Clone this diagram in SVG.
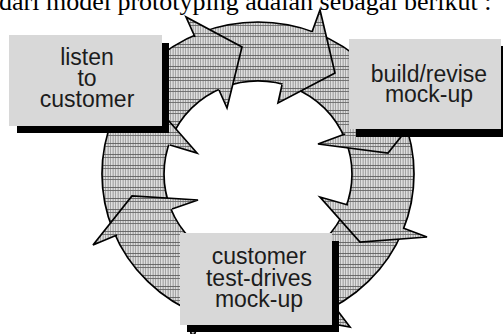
<svg xmlns="http://www.w3.org/2000/svg" width="503" height="334" viewBox="0 0 503 334">
  <defs>
    <!-- plaid hatch used for the ring and every arrowhead -->
    <pattern id="hatch" patternUnits="userSpaceOnUse" width="5" height="11">
      <rect width="5" height="11" fill="#dedede"/>
      <rect x="0" width="1" height="11" fill="#a4a4a4"/>
      <rect x="2" width="1" height="11" fill="#c4c4c4"/>
      <rect x="3" width="1" height="11" fill="#b2b2b2"/>
      <rect y="0" width="5" height="0.9" fill="#606060"/>
      <rect y="3" width="5" height="0.9" fill="#6a6a6a"/>
    </pattern>
  </defs>
  <style>
    .caption { font-family: "Liberation Serif", "Times New Roman", serif; font-size: 26px; fill: #000; }
    .ring { fill: url(#hatch); fill-rule: evenodd; stroke: #000; stroke-width: 1.7; }
    .head-fill { fill: url(#hatch); stroke: none; }
    .head-edge { fill: none; stroke: #000; stroke-width: 1.7; stroke-linejoin: miter; }
    .shadow { fill: #000; }
    .box { fill: #d8d8d8; }
    .label { font-family: "Liberation Sans", Arial, sans-serif; font-size: 23px; fill: #1c1c1c; text-anchor: middle; }
  </style>

  <rect width="503" height="334" fill="#fff"/>

  <text class="caption" x="-1" y="9.5">dari model prototyping adalah sebagai berikut :</text>

  <!-- cycle of curved arrows -->
  <g id="cycle-arrows">
    <path class="ring" d="M102,174 A156,152 0 1,1 414,174 A156,152 0 1,1 102,174 Z M164,174 A94,93 0 1,0 352,174 A94,93 0 1,0 164,174 Z"/>

    <!-- head at lower left, pointing up -->
    <path class="head-fill" d="M117,235 L93,245 L132,196 L198,200 L172,209 Z"/>
    <path class="head-edge" d="M117,235 L93,245 L132,196 L198,200 L172,209"/>

    <!-- head at upper left (mostly under the first box) -->
    <path class="head-fill" d="M110,126 L91,120 L147,96 L197,153 L170,145 Z"/>
    <path class="head-edge" d="M110,126 L91,120 L147,96 L197,153 L170,145"/>

    <!-- head at top left -->
    <path class="head-fill" d="M195,37 L186,17 L242,47 L227,108 L219,90 Z"/>
    <path class="head-edge" d="M195,37 L186,17 L242,47 L227,108 L219,90"/>

    <!-- head at top right -->
    <path class="head-fill" d="M312,32 L320,10 L335,73 L278,103 L282,85 Z"/>
    <path class="head-edge" d="M312,32 L320,10 L335,73 L278,103 L282,85"/>

    <!-- head at upper right, pointing down -->
    <path class="head-fill" d="M400,112 L424,108 L388,153 L318,144 L345,134 Z"/>
    <path class="head-edge" d="M400,112 L424,108 L388,153 L318,144 L345,134"/>

    <!-- head at lower right -->
    <path class="head-fill" d="M403,228 L427,237 L360,242 L320,197 L348,205 Z"/>
    <path class="head-edge" d="M403,228 L427,237 L360,242 L320,197 L348,205"/>

    <!-- head at bottom right (behind the third box) -->
    <path class="head-fill" d="M334,306 L350,327 L300,318 L292,240 L302,256 Z"/>
    <path class="head-edge" d="M334,306 L350,327 L300,318 L292,240 L302,256"/>

    <!-- head at bottom left (behind the third box) -->
    <path class="head-fill" d="M201,317 L192,341 L184,279 L234,235 L222,260 Z"/>
    <path class="head-edge" d="M201,317 L192,341 L184,279 L234,235 L222,260"/>
  </g>

  <g id="listen-to-customer">
    <rect class="shadow" x="17" y="43" width="152" height="90"/>
    <rect class="box" x="9" y="35" width="153" height="91"/>
    <text class="label" x="87" y="65">listen</text>
    <text class="label" x="87" y="86">to</text>
    <text class="label" x="87" y="107">customer</text>
  </g>

  <g id="build-revise-mock-up">
    <rect class="shadow" x="356" y="46" width="152" height="91"/>
    <rect class="box" x="349" y="39" width="152" height="90"/>
    <text class="label" x="429" y="82">build/revise</text>
    <text class="label" x="429" y="102">mock-up</text>
  </g>

  <g id="customer-test-drives-mock-up">
    <rect class="shadow" x="187" y="241" width="152" height="91"/>
    <rect class="box" x="180" y="233" width="152" height="92"/>
    <text class="label" x="259" y="264">customer</text>
    <text class="label" x="259" y="286">test-drives</text>
    <text class="label" x="259" y="307">mock-up</text>
  </g>
</svg>
